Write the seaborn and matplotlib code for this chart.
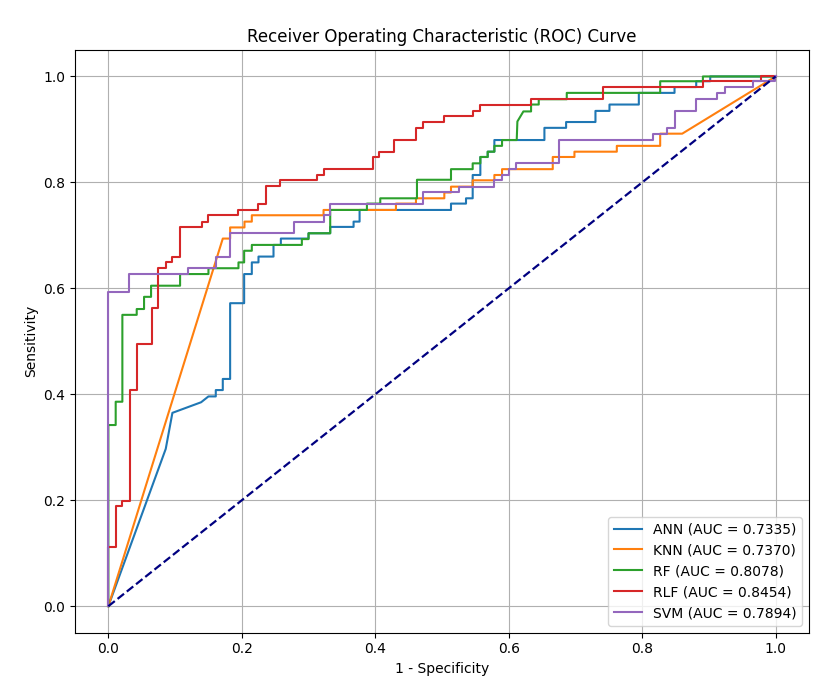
import numpy as np
import pandas as pd
import matplotlib
matplotlib.use("Agg")
import matplotlib.pyplot as plt
import seaborn as sns

# ROC vertices (fpr, tpr)
ann_fpr = [0, 0.086, 0.096, 0.139, 0.15, 0.161, 0.161, 0.1715, 0.1715, 0.1825, 0.1825, 0.2035, 0.2035,
           0.215, 0.215, 0.225, 0.225, 0.2475, 0.2475, 0.2585, 0.2585, 0.30, 0.30, 0.3325, 0.3325,
           0.3675, 0.3675, 0.3765, 0.3765, 0.5135, 0.5135, 0.536, 0.536, 0.546, 0.546, 0.5575, 0.5575,
           0.5685, 0.5685, 0.5785, 0.5785, 0.6535, 0.6535, 0.686, 0.686, 0.73, 0.73, 0.751, 0.751,
           0.795, 0.795, 0.8485, 0.8485, 0.881, 0.881, 0.902, 0.902, 1.0]
ann_tpr = [0, 0.297, 0.365, 0.385, 0.396, 0.396, 0.408, 0.408, 0.429, 0.429, 0.572, 0.572, 0.627,
           0.627, 0.649, 0.649, 0.660, 0.660, 0.682, 0.682, 0.694, 0.694, 0.704, 0.704, 0.716,
           0.716, 0.726, 0.726, 0.748, 0.748, 0.760, 0.760, 0.770, 0.770, 0.814, 0.814, 0.848,
           0.848, 0.858, 0.858, 0.880, 0.880, 0.903, 0.903, 0.914, 0.914, 0.935, 0.935, 0.947,
           0.947, 0.969, 0.969, 0.980, 0.980, 0.991, 0.991, 1.0, 1.0]

knn_fpr = [0, 0.1715, 0.1825, 0.1825, 0.204, 0.204, 0.215, 0.215, 0.3225, 0.3225, 0.431, 0.431,
           0.461, 0.461, 0.5035, 0.5035, 0.5135, 0.5135, 0.546, 0.546, 0.5785, 0.5785, 0.59, 0.59,
           0.666, 0.666, 0.6985, 0.6985, 0.762, 0.762, 0.827, 0.827, 0.86, 1.0]
knn_tpr = [0, 0.694, 0.694, 0.715, 0.715, 0.726, 0.726, 0.738, 0.738, 0.748, 0.748, 0.760,
           0.760, 0.770, 0.770, 0.781, 0.781, 0.792, 0.792, 0.804, 0.804, 0.814, 0.814, 0.825,
           0.825, 0.848, 0.848, 0.858, 0.858, 0.869, 0.869, 0.892, 0.892, 1.0]

rf_fpr = [0, 0, 0.011, 0.011, 0.021, 0.021, 0.0425, 0.0425, 0.0535, 0.0535, 0.064, 0.064, 0.1075,
          0.1075, 0.15, 0.15, 0.195, 0.195, 0.2035, 0.2035, 0.215, 0.215, 0.29, 0.29, 0.30, 0.30,
          0.3325, 0.3325, 0.3875, 0.3875, 0.4075, 0.4075, 0.4625, 0.4625, 0.5135, 0.5135, 0.546,
          0.546, 0.5575, 0.5575, 0.5685, 0.5685, 0.5785, 0.5785, 0.59, 0.59, 0.612, 0.613, 0.622,
          0.6335, 0.6335, 0.645, 0.645, 0.687, 0.687, 0.827, 0.827, 0.891, 0.891, 1.0]
rf_tpr = [0, 0.342, 0.342, 0.386, 0.386, 0.550, 0.550, 0.561, 0.561, 0.584, 0.584, 0.605, 0.605,
          0.627, 0.627, 0.638, 0.638, 0.649, 0.649, 0.671, 0.671, 0.682, 0.682, 0.693, 0.693, 0.704,
          0.704, 0.748, 0.748, 0.760, 0.760, 0.770, 0.770, 0.805, 0.805, 0.825, 0.825,
          0.836, 0.836, 0.848, 0.848, 0.858, 0.858, 0.869, 0.869, 0.880, 0.880, 0.915, 0.934,
          0.934, 0.947, 0.947, 0.957, 0.957, 0.969, 0.969, 0.991, 0.991, 1.0, 1.0]

rlf_fpr = [0, 0, 0.011, 0.011, 0.021, 0.021, 0.032, 0.032, 0.0435, 0.0435, 0.065, 0.065, 0.075,
           0.075, 0.086, 0.086, 0.096, 0.096, 0.1075, 0.1075, 0.14, 0.14, 0.15, 0.15, 0.194, 0.194,
           0.225, 0.225, 0.2365, 0.2365, 0.2575, 0.2575, 0.3125, 0.3125, 0.3225, 0.3225, 0.396,
           0.396, 0.406, 0.406, 0.4285, 0.4285, 0.461, 0.461, 0.472, 0.472, 0.5035, 0.5035, 0.547,
           0.547, 0.5575, 0.5575, 0.6335, 0.6335, 0.741, 0.741, 0.891, 0.891, 0.9785, 0.9785, 1.0]
rlf_tpr = [0, 0.111, 0.111, 0.189, 0.189, 0.199, 0.199, 0.408, 0.408, 0.495, 0.495, 0.562, 0.562,
           0.638, 0.638, 0.649, 0.649, 0.660, 0.660, 0.716, 0.716, 0.725, 0.725, 0.738, 0.738, 0.748,
           0.748, 0.760, 0.760, 0.793, 0.793, 0.804, 0.804, 0.814, 0.814, 0.826, 0.826,
           0.848, 0.848, 0.858, 0.858, 0.880, 0.880, 0.903, 0.903, 0.914, 0.914, 0.925, 0.925,
           0.935, 0.935, 0.947, 0.947, 0.957, 0.957, 0.980, 0.980, 0.991, 0.991, 1.0, 1.0]

svm_fpr = [0, 0, 0.0315, 0.0315, 0.119, 0.119, 0.161, 0.161, 0.1825, 0.1825, 0.2785, 0.2785, 0.3225,
           0.3225, 0.3325, 0.3325, 0.471, 0.471, 0.525, 0.525, 0.5785, 0.5785, 0.59, 0.59, 0.60,
           0.60, 0.611, 0.611, 0.676, 0.676, 0.816, 0.816, 0.8375, 0.8375, 0.8485, 0.8485, 0.88,
           0.88, 0.912, 0.912, 0.9235, 0.9235, 0.966, 0.966, 0.9985, 0.9985, 1.0]
svm_tpr = [0, 0.594, 0.594, 0.628, 0.628, 0.638, 0.638, 0.660, 0.660, 0.704, 0.704, 0.726, 0.726,
           0.738, 0.738, 0.760, 0.760, 0.781, 0.781, 0.792, 0.792, 0.804, 0.804, 0.814, 0.814,
           0.825, 0.825, 0.836, 0.836, 0.880, 0.880, 0.892, 0.892, 0.903, 0.903, 0.935, 0.935,
           0.957, 0.957, 0.969, 0.969, 0.980, 0.980, 0.991, 0.991, 1.0, 1.0]

model_names = ["ANN", "KNN", "RF", "RLF", "SVM"]
auc_values = [0.7335, 0.7370, 0.8078, 0.8454, 0.7894]

roc_curves = {
    "ANN": (ann_fpr, ann_tpr),
    "KNN": (knn_fpr, knn_tpr),
    "RF": (rf_fpr, rf_tpr),
    "RLF": (rlf_fpr, rlf_tpr),
    "SVM": (svm_fpr, svm_tpr),
}

colors = sns.color_palette("tab10", 5)

fig = plt.figure(figsize=(8.16, 6.79), dpi=100)
ax = fig.add_axes([0.0919, 0.0682, 0.8995, 0.8582])

for i, name in enumerate(model_names):
    fpr, tpr = roc_curves[name]
    sns.lineplot(x=fpr, y=tpr, sort=False, estimator=None, color=colors[i], linewidth=1.5,
                 label=f"{name} (AUC = {auc_values[i]:.4f})", ax=ax)

# Baseline
ax.plot([0, 1], [0, 1], color="navy", linestyle="--", linewidth=1.6)

ax.set_xlabel("1 - Specificity", fontsize=10)
ax.set_ylabel("Sensitivity", fontsize=10)
ax.set_title("Receiver Operating Characteristic (ROC) Curve", fontsize=12)
ax.tick_params(labelsize=10)
ax.grid(True, color="#b0b0b0", linewidth=0.8)
ax.legend(loc="lower right", fontsize=10)

fig.savefig("out.png", dpi=100)
